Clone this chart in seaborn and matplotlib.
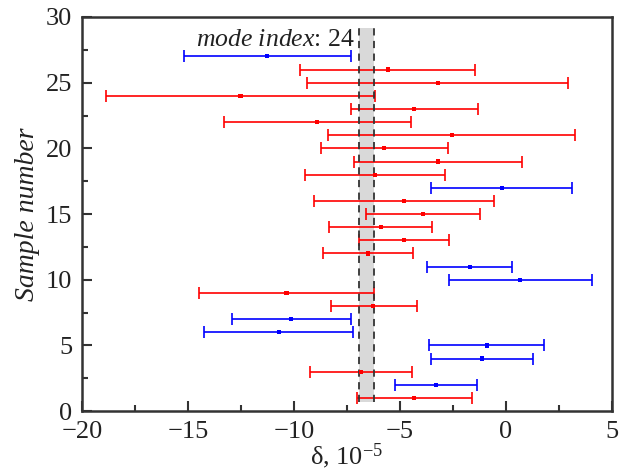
import numpy as np
import pandas as pd
import matplotlib
matplotlib.use("Agg")
import matplotlib.pyplot as plt
from matplotlib.ticker import MultipleLocator
import seaborn as sns

# values (units of 1e-5)
sample = list(range(1, 28))
center = [-4.33, -3.30, -6.84, -1.12, -0.91, -10.72, -10.13, -6.26, -10.35, 0.68,
          -1.71, -6.51, -4.81, -5.91, -3.92, -4.79, -0.20, -6.19, -3.22, -5.74,
          -2.56, -8.92, -4.33, -12.52, -3.22, -5.58, -11.26]
lower = [-7.04, -5.22, -9.25, -3.54, -3.62, -14.25, -12.92, -8.27, -14.47, -2.70,
         -3.71, -8.62, -6.93, -8.33, -6.62, -9.04, -3.54, -9.48, -7.17, -8.73,
         -8.40, -13.30, -7.30, -18.84, -9.37, -9.69, -15.19]
upper = [-1.59, -1.38, -4.43, 1.27, 1.81, -7.20, -7.30, -4.18, -6.23, 4.07,
         0.28, -4.40, -2.70, -3.49, -1.23, -0.55, 3.11, -2.86, 0.74, -2.74,
         3.27, -4.50, -1.32, -6.19, 2.94, -1.46, -7.30]
group = ['r', 'b', 'r', 'b', 'b', 'b', 'b', 'r', 'r', 'b',
         'b', 'r', 'r', 'r', 'r', 'r', 'b', 'r', 'r', 'r',
         'r', 'r', 'r', 'r', 'r', 'r', 'b']
band = (-6.93, -6.24)
band_y = (0.7, 29.2)
mode_index = 24

df = pd.DataFrame({'sample': sample, 'center': center, 'lower': lower,
                   'upper': upper, 'group': group})
colors = {'r': '#ff0000', 'b': '#0000ff'}

sns.set_style("ticks")
serif = 'Liberation Serif'
plt.rcParams['font.family'] = [serif, 'DejaVu Serif']
plt.rcParams['mathtext.fontset'] = 'custom'
plt.rcParams['mathtext.rm'] = serif
plt.rcParams['mathtext.it'] = serif + ':italic'
txt = '#222222'

fig = plt.figure(figsize=(6.29, 4.72), dpi=100)
ax = fig.add_axes([0.130, 0.129, 0.843, 0.835])

# shaded band with dashed edges
ax.fill_betweenx(band_y, band[0], band[1], color='#d9d9d9', lw=0, zorder=1)
for b in band:
    ax.plot([b, b], band_y, color='#333333', ls=(0, (4, 3)), lw=1.3, zorder=4)

for g, sub in df.groupby('group'):
    ax.errorbar(sub['center'], sub['sample'],
                xerr=[sub['center'] - sub['lower'], sub['upper'] - sub['center']],
                fmt='none', ecolor=colors[g], elinewidth=1.2, capsize=4.5,
                capthick=1.2, zorder=3)

sns.scatterplot(data=df, x='center', y='sample', hue='group', palette=colors,
                marker='s', s=9, linewidth=0, legend=False, ax=ax, zorder=5)

ax.text(-7.15, 28.25, r"$\mathit{mode\ index}$: %d" % mode_index,
        ha='right', va='center', fontsize=18.5, color=txt, family=serif)

ax.set_xlim(-20, 5)
ax.set_ylim(0, 30)
ax.xaxis.set_major_locator(MultipleLocator(5))
ax.xaxis.set_minor_locator(MultipleLocator(2.5))
ax.yaxis.set_major_locator(MultipleLocator(5))
ax.yaxis.set_minor_locator(MultipleLocator(2.5))
ax.tick_params(which='both', direction='in', color='#333333', width=1.5,
               labelsize=19, labelcolor=txt, pad=7)
ax.tick_params(which='major', length=7)
ax.tick_params(which='minor', length=4)
for lab in ax.get_xticklabels() + ax.get_yticklabels():
    lab.set_family(serif)
for sp in ax.spines.values():
    sp.set_linewidth(1.8)
    sp.set_color('#333333')

ax.set_xlabel(r"δ, 10$^{-5}$", fontsize=19, color=txt, family=serif, labelpad=-1)
ax.set_ylabel("Sample number", fontsize=20, style='italic', color=txt,
              family=serif, labelpad=4)

fig.savefig('out.png', dpi=100)
